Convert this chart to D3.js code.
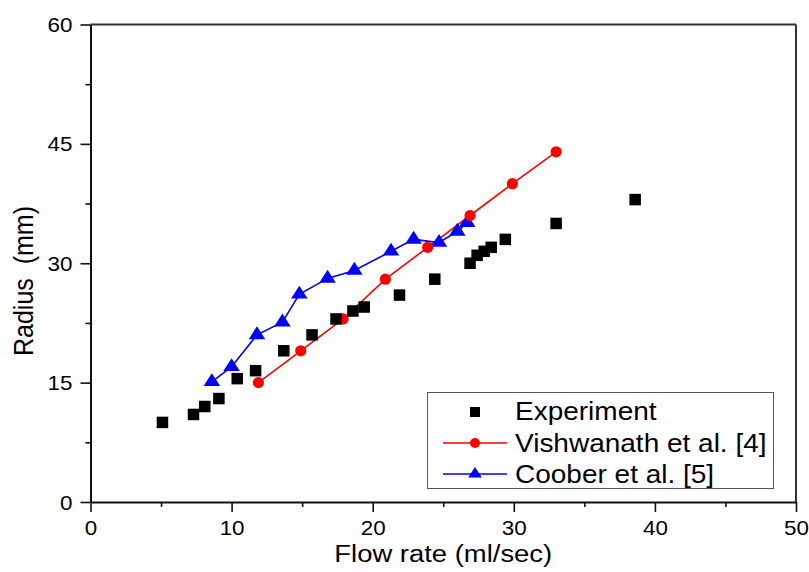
<!DOCTYPE html>
<html>
<head>
<meta charset="utf-8">
<script src="https://cdn.jsdelivr.net/npm/d3@7"></script>
<style>
  html, body { margin: 0; padding: 0; background: #fff; }
  svg { display: block; font-family: "Liberation Sans", Arial, sans-serif; }
</style>
</head>
<body>
<svg id="chart" width="809" height="572"></svg>
<script>
// ---- data ----
const expX = [5.1, 7.3, 8.1, 9.1, 10.4, 11.7, 13.7, 15.7, 17.4, 18.6, 19.4, 21.9, 24.4, 26.9, 27.4, 27.9, 28.4, 29.4, 33.0, 38.6];
const expY = [10, 11, 12, 13, 15.5, 16.5, 19, 21, 23, 24, 24.5, 26, 28, 30, 31, 31.5, 32, 33, 35, 38];

const visX = [11.9, 14.9, 17.9, 20.9, 23.9, 26.9, 29.9, 33.0];
const visY = [15, 19, 23, 28, 32, 36, 40, 44];

const cooX = [8.6, 10.0, 11.8, 13.6, 14.8, 16.8, 18.7, 21.3, 22.9, 24.7, 26.0, 26.7];
const cooY = [15.1, 17, 21, 22.6, 26.1, 28.1, 29.1, 31.5, 33, 32.6, 34, 35.1];

const xTicks = [0, 10, 20, 30, 40, 50];
const yTicks = [0, 15, 30, 45, 60];
const xMinor = [5, 15, 25, 35, 45];
const yMinor = [7.5, 22.5, 37.5, 52.5];

const seriesNames = ["Experiment", "Vishwanath et al. [4]", "Coober et al. [5]"];
const xTitle = "Flow rate (ml/sec)";
const yTitle = "Radius\u00a0 (mm)";

// ---- layout ----
const L = 90.5, R = 796, T = 24.5, B = 502;
const SX = 1.12; // horizontal stretch of text in the reference

const svg = d3.select("#chart");
const x = d3.scaleLinear().domain([0, 50]).range([L, R]);
const y = d3.scaleLinear().domain([0, 60]).range([B, T]);

// frame (top/right)
svg.append("line").attr("x1", L).attr("x2", R).attr("y1", T).attr("y2", T)
  .attr("stroke", "#333").attr("stroke-width", 2);
svg.append("line").attr("x1", R).attr("x2", R).attr("y1", T).attr("y2", B)
  .attr("stroke", "#333").attr("stroke-width", 2);

// x axis
const xAxisMinor = d3.axisBottom(x).tickValues(xMinor).tickSize(5).tickFormat("");
const gxm = svg.append("g").attr("transform", `translate(0,${B})`).call(xAxisMinor);
gxm.select(".domain").remove();
const xAxis = d3.axisBottom(x).tickValues(xTicks).tickSize(10).tickSizeOuter(0).tickFormat(d3.format("d"));
const gx = svg.append("g").attr("transform", `translate(0,${B})`).call(xAxis);
gx.selectAll("text").attr("y", 0).attr("dy", 0)
  .attr("transform", `translate(0,33) scale(${SX},1)`)
  .attr("font-size", 20).attr("fill", "#000").attr("font-family", "Liberation Sans, Arial, sans-serif");

// y axis
const yAxisMinor = d3.axisLeft(y).tickValues(yMinor).tickSize(5).tickFormat("");
const gym = svg.append("g").attr("transform", `translate(${L},0)`).call(yAxisMinor);
gym.select(".domain").remove();
const yAxis = d3.axisLeft(y).tickValues(yTicks).tickSize(10).tickSizeOuter(0).tickFormat(d3.format("d"));
const gy = svg.append("g").attr("transform", `translate(${L},0)`).call(yAxis);
gy.selectAll("text").attr("x", 0).attr("dy", "0.35em")
  .attr("transform", `translate(-18,0) scale(${SX},1)`)
  .attr("font-size", 20).attr("fill", "#000").attr("font-family", "Liberation Sans, Arial, sans-serif");

[gx, gy, gxm, gym].forEach(g => {
  g.selectAll("line").attr("stroke", "#111").attr("stroke-width", 1.6);
  g.selectAll(".domain").attr("stroke", "#111").attr("stroke-width", 2);
});

// axis titles
svg.append("text").attr("transform", `translate(${(L + R) / 2},562) scale(${SX},1)`)
  .attr("text-anchor", "middle").attr("font-size", 24.5).attr("fill", "#000").text(xTitle);
svg.append("text").attr("transform", `translate(33,281) scale(${SX},1) rotate(-90)`)
  .attr("text-anchor", "middle").attr("font-size", 25).attr("fill", "#000").text(yTitle);

// series lines
const line = d3.line().x(d => x(d[0])).y(d => y(d[1]));
const visPts = visX.map((v, i) => [v, visY[i]]);
const cooPts = cooX.map((v, i) => [v, cooY[i]]);
const expPts = expX.map((v, i) => [v, expY[i]]);

svg.append("path").datum(visPts).attr("d", line)
  .attr("fill", "none").attr("stroke", "#ff0000").attr("stroke-width", 1.6);
svg.append("path").datum(cooPts).attr("d", line)
  .attr("fill", "none").attr("stroke", "#0000ff").attr("stroke-width", 1.6);

// markers
const triPath = d3.symbol().type(d3.symbolTriangle).size(95)();
svg.append("g").selectAll("path").data(cooPts).join("path")
  .attr("d", triPath)
  .attr("transform", d => `translate(${x(d[0])},${y(d[1])}) scale(${SX},1)`)
  .attr("fill", "#0000ff");
svg.append("g").selectAll("circle").data(visPts).join("circle")
  .attr("cx", d => x(d[0])).attr("cy", d => y(d[1])).attr("r", 5.6)
  .attr("fill", "#ff0000");
svg.append("g").selectAll("rect").data(expPts).join("rect")
  .attr("x", d => x(d[0]) - 5.75).attr("y", d => y(d[1]) - 5.75)
  .attr("width", 11.5).attr("height", 11.5).attr("fill", "#000");

// legend
const lg = svg.append("g");
lg.append("rect").attr("x", 427.5).attr("y", 392.5).attr("width", 346).attr("height", 96)
  .attr("fill", "#fff").attr("stroke", "#555").attr("stroke-width", 1);
const rowsY = [412, 443, 474];
const symX = 475;
// Experiment
lg.append("rect").attr("x", symX - 5).attr("y", rowsY[0] - 5).attr("width", 10).attr("height", 10).attr("fill", "#000");
// Vishwanath
lg.append("line").attr("x1", 443).attr("x2", 507).attr("y1", rowsY[1]).attr("y2", rowsY[1])
  .attr("stroke", "#ff0000").attr("stroke-width", 1.6);
lg.append("circle").attr("cx", symX).attr("cy", rowsY[1]).attr("r", 5).attr("fill", "#ff0000");
// Coober
lg.append("line").attr("x1", 443).attr("x2", 507).attr("y1", rowsY[2]).attr("y2", rowsY[2])
  .attr("stroke", "#0000ff").attr("stroke-width", 1.6);
lg.append("path").attr("d", d3.symbol().type(d3.symbolTriangle).size(65)())
  .attr("transform", `translate(${symX},${rowsY[2]}) scale(${SX},1)`).attr("fill", "#0000ff");

const textBase = [420, 452, 483];
seriesNames.forEach((n, i) => {
  lg.append("text").attr("transform", `translate(515,${textBase[i]}) scale(${SX},1)`)
    .attr("font-size", 25).attr("fill", "#000").text(n);
});
</script>
</body>
</html>
